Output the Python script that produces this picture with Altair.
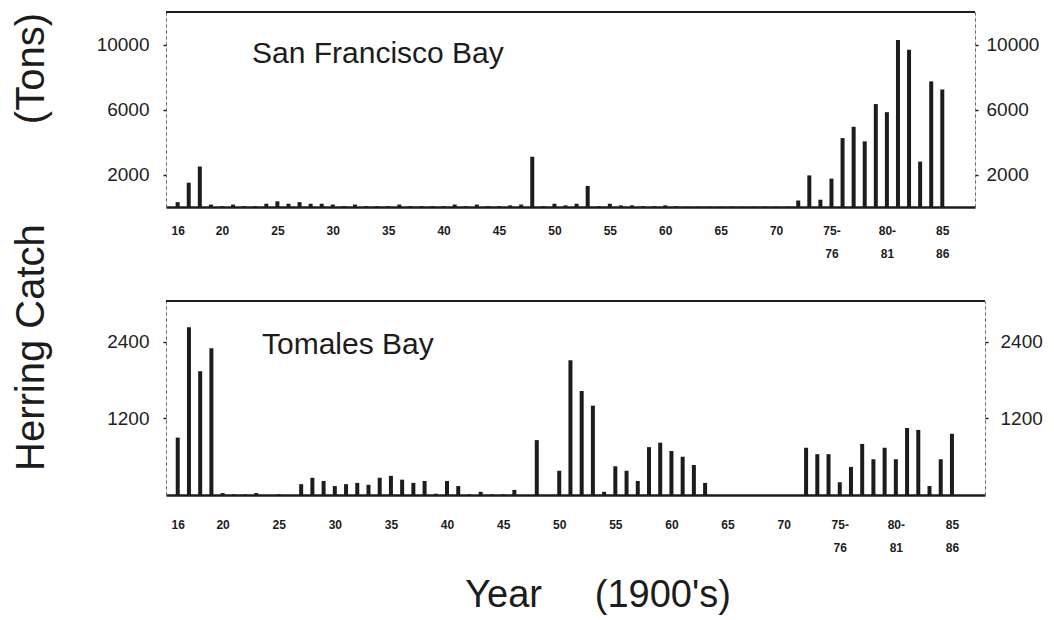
import altair as alt
import pandas as pd

INK = "#1c1c1c"
FONT = "Liberation Sans"

# Seasons (start year, 1900's)
years = list(range(16, 86))

# San Francisco Bay herring catch (tons)
sf_tons = [
    300, 1500, 2500, 150, 50, 150, 50, 50, 200, 350,      # 16-25
    200, 300, 200, 200, 150, 50, 150, 50, 50, 50,          # 26-35
    150, 50, 50, 50, 50, 150, 50, 150, 50, 50,             # 36-45
    100, 150, 3100, 50, 200, 100, 200, 1300, 50, 200,      # 46-55
    100, 100, 50, 50, 100, 50, 20, 20, 20, 20,             # 56-65
    20, 20, 20, 20, 20, 20, 400, 1950, 450, 1750,          # 66-75
    4250, 4950, 4050, 6350, 5850, 10300, 9700, 2800, 7750, 7250,  # 76-85
]

# Tomales Bay herring catch (tons)
tb_tons = [
    900, 2630, 1940, 2300, 30, 10, 10, 30, 0, 10,          # 16-25
    0, 170, 270, 220, 140, 170, 190, 160, 270, 300,        # 26-35
    240, 190, 220, 20, 220, 140, 10, 50, 10, 10,           # 36-45
    80, 0, 860, 0, 380, 2110, 1630, 1400, 50, 450,         # 46-55
    380, 220, 750, 820, 690, 600, 470, 190, 0, 0,          # 56-65
    0, 0, 0, 0, 0, 0, 740, 640, 640, 200,                  # 66-75
    440, 800, 560, 740, 560, 1050, 1020, 140, 560, 960,    # 76-85
]

x_tick_values = [16, 20, 25, 30, 35, 40, 45, 50, 55, 60, 65, 70, 75, 80, 85]
x_tick_labels = [["16"], ["20"], ["25"], ["30"], ["35"], ["40"], ["45"], ["50"],
                 ["55"], ["60"], ["65"], ["70"], ["75-", "76"], ["80-", "81"], ["85", "86"]]

sf_y_ticks = [2000, 6000, 10000]
tb_y_ticks = [1200, 2400]

panel_titles = ["San Francisco Bay", "Tomales Bay"]
y_title = "Herring Catch" + "\u00a0" * 9 + "(Tons)"
x_title = "Year" + "\u00a0" * 5 + "(1900's)"

# build label expression from the tick label lists
expr = "datum.label"
for v, lab in zip(reversed(x_tick_values), reversed(x_tick_labels)):
    if len(lab) == 1:
        arr = "'" + lab[0] + "'"
    else:
        arr = "[" + ",".join("'" + s + "'" for s in lab) + "]"
    expr = f"datum.value == {v} ? {arr} : ({expr})"


def panel(values, ymax, yticks, width, height, title, xlab_pad, rpad, extra):
    df = pd.DataFrame({"year": years, "tons": values})
    xscale = alt.Scale(domain=[15.4, 87.5], nice=False, zero=False)
    yscale = alt.Scale(domain=[0, ymax], nice=False)
    xaxis = alt.Axis(
        values=x_tick_values, labelExpr=expr, ticks=False, grid=False,
        domainColor=INK, domainWidth=2.5, labelFont=FONT, labelFontSize=12,
        labelFontWeight="bold", labelColor=INK, labelPadding=xlab_pad,
        labelLineHeight=23, labelFlush=False, labelOverlap=False, title=None)
    yaxis_common = dict(
        values=yticks, grid=False, title=None, tickSize=3, tickColor=INK,
        tickWidth=1.5, domainDash=[3, 3], domainColor="#666", domainWidth=1,
        labelFont=FONT, labelFontSize=19, labelColor="#222", format="d",
    )
    bars = alt.Chart(df).mark_bar(size=4, color=INK).encode(
        x=alt.X("year:Q", scale=xscale, axis=xaxis),
        y=alt.Y("tons:Q", scale=yscale,
                axis=alt.Axis(orient="left", labelPadding=14, **yaxis_common)),
    )
    right = alt.Chart(df).mark_bar(size=4, opacity=0).encode(
        x=alt.X("year:Q", scale=xscale, axis=xaxis),
        y=alt.Y("tons:Q", scale=yscale,
                axis=alt.Axis(orient="right", labelPadding=rpad, **yaxis_common)),
    )
    one = pd.DataFrame({"k": [0]})
    top_line = alt.Chart(one).mark_rule(color=INK, strokeWidth=2).encode(
        x=alt.value(0), x2=alt.value(width), y=alt.value(0))
    label = alt.Chart(one).mark_text(
        align="left", baseline="alphabetic", font=FONT, fontSize=30, color=INK
    ).encode(x=alt.value(title[1]), y=alt.value(title[2]), text=alt.value(title[0]))
    return alt.layer(bars, right, top_line, label, extra).resolve_axis(
        y="independent").properties(width=width, height=height)


one = pd.DataFrame({"k": [0]})
ytitle_mark = alt.Chart(one).mark_text(
    align="center", baseline="alphabetic", angle=270, font=FONT, fontSize=40, color=INK
).encode(x=alt.value(-122), y=alt.value(230), text=alt.value(y_title))

xtitle_mark = alt.Chart(one).mark_text(
    align="center", baseline="alphabetic", font=FONT, fontSize=38, color=INK
).encode(x=alt.value(432), y=alt.value(306), text=alt.value(x_title))

top = panel(sf_tons, 12030, sf_y_ticks, 809, 195,
            (panel_titles[0], 86, 51), 18, 8, ytitle_mark)
bottom = panel(tb_tons, 3040, tb_y_ticks, 819, 194,
               (panel_titles[1], 96, 53), 24, 12, xtitle_mark)

chart = alt.vconcat(top, bottom, spacing=94, bounds="flush").configure_view(
    stroke=None).configure(background="white").properties(
    padding={"left": 3, "top": 2, "right": 0, "bottom": 4})

chart.save("out.html", embed_options={"renderer": "svg", "actions": False})
